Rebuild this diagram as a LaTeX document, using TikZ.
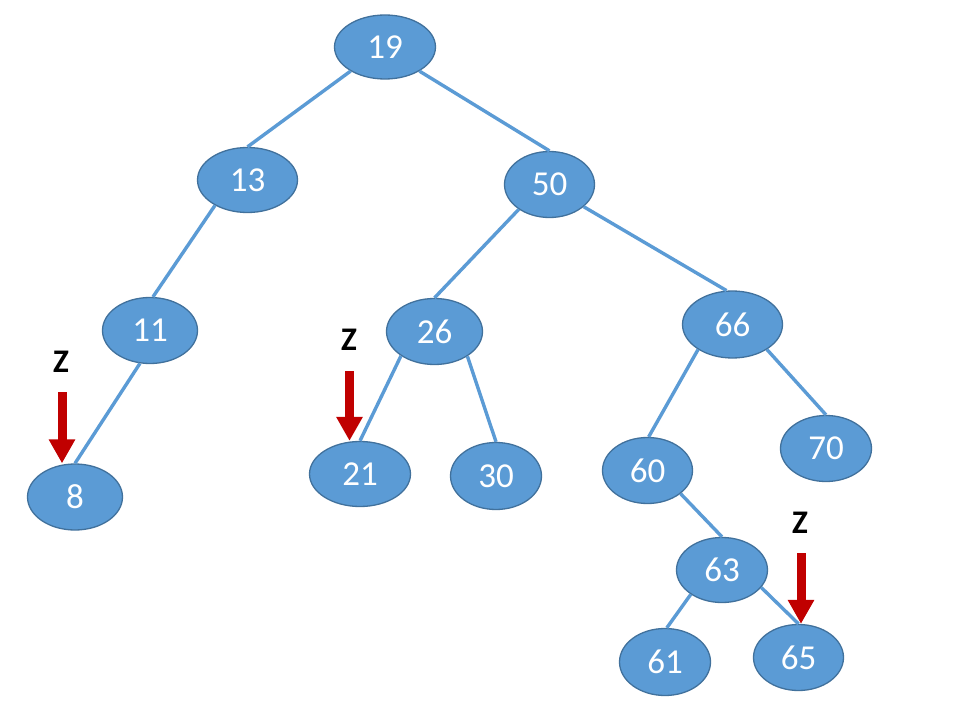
\documentclass[tikz,border=0pt]{standalone}
\usepackage{fontspec}
\setmainfont{Carlito}
\usetikzlibrary{shapes.geometric,arrows.meta}
\definecolor{nodefill}{HTML}{5B9BD5}
\definecolor{nodeline}{HTML}{41719C}
\definecolor{arrowred}{HTML}{C00000}
\begin{document}
\begin{tikzpicture}[x=1pt,y=-1pt,
  tn/.style={ellipse, draw=nodeline, line width=1.3pt, fill=nodefill, text=white,
    inner sep=0pt, font=\fontsize{35}{35}\selectfont},
  edge/.style={draw=nodefill, line width=3.4pt},
  zlab/.style={font=\fontsize{33}{33}\selectfont\bfseries, inner sep=0pt, text=black},
  zarrow/.style={draw=arrowred, line width=9pt, -{Triangle[width=25pt,length=24pt]}}]
\fill[white] (0,0) rectangle (954,706);
\useasboundingbox (0,0) rectangle (954,706);
% nodes
\node[tn, minimum width=101pt, minimum height=64pt] (n19) at (385,47) {19};
\node[tn, minimum width=100pt, minimum height=65pt] (n13) at (247.5,180) {13};
\node[tn, minimum width=90pt, minimum height=66pt] (n50) at (549.5,184.5) {50};
\node[tn, minimum width=95pt, minimum height=66pt] (n11) at (150,330.5) {11};
\node[tn, minimum width=96pt, minimum height=66pt] (n26) at (434.5,331.5) {26};
\node[tn, minimum width=100pt, minimum height=67pt] (n66) at (732.5,324.5) {66};
\node[tn, minimum width=95pt, minimum height=66pt] (n8) at (75,497) {8};
\node[tn, minimum width=101pt, minimum height=65pt] (n21) at (360,474) {21};
\node[tn, minimum width=91pt, minimum height=67pt] (n30) at (496,476) {30};
\node[tn, minimum width=90pt, minimum height=66pt] (n60) at (647.5,470.5) {60};
\node[tn, minimum width=91pt, minimum height=66pt] (n70) at (826,448.5) {70};
\node[tn, minimum width=91pt, minimum height=65pt] (n63) at (722,570) {63};
\node[tn, minimum width=91pt, minimum height=67pt] (n61) at (665,662) {61};
\node[tn, minimum width=90pt, minimum height=66pt] (n65) at (798.5,657.5) {65};
% edges
\draw[edge] (n19.215) -- (n13.90);
\draw[edge] (n19.325) -- (n50.90);
\draw[edge] (n13.218) -- (n11.85);
\draw[edge] (n11.253) -- (n8.90);
\draw[edge] (n50.219) -- (n26.90);
\draw[edge] (n50.327) -- (n66.100);
\draw[edge] (n26.216) -- (n21.90);
\draw[edge] (n26.323) -- (n30.90);
\draw[edge] (n66.216) -- (n60.88);
\draw[edge] (n66.324) -- (n70.90);
\draw[edge] (n60.325) -- (n63.90);
\draw[edge] (n63.218) -- (n61.87);
\draw[edge] (n63.336) -- (n65.90);
% Z markers
\node[zlab] (z1) at (61,362) {Z};
\node[zlab] (z2) at (349,340) {Z};
\node[zlab] (z3) at (800,523) {Z};
\coordinate (a1) at (62,392);
\coordinate (a2) at (349.5,371);
\coordinate (a3) at (801,553);
\draw[zarrow] (a1) -- (a1 |- n8.north);
\draw[zarrow] (a2) -- (a2 |- n21.north);
\draw[zarrow] (a3) -- (a3 |- n65.north);
\end{tikzpicture}
\end{document}
